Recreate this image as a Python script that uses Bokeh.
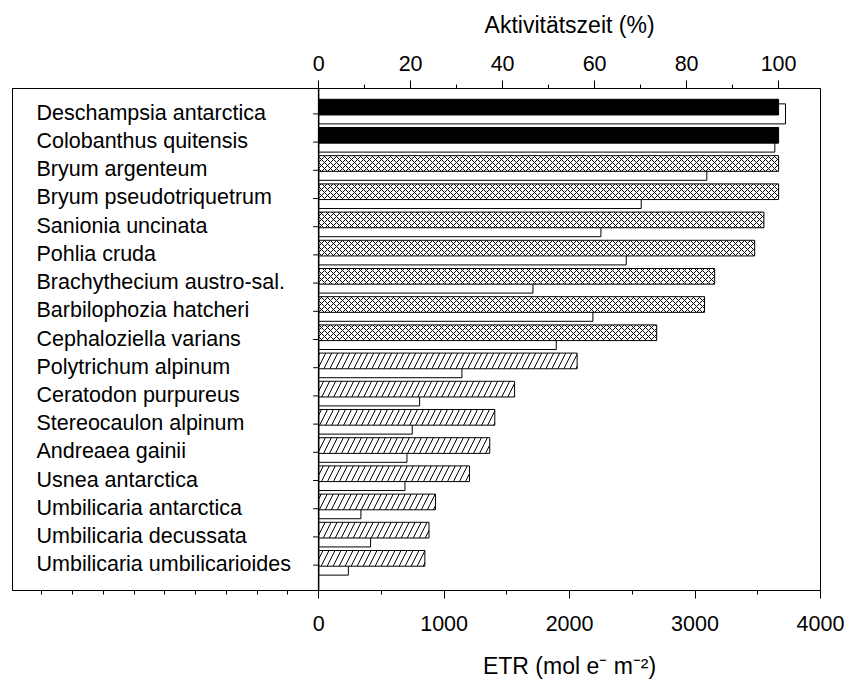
from bokeh.plotting import figure
from bokeh.models import ColumnDataSource, Range1d, FactorRange, LinearAxis, FixedTicker, Span
from bokeh.transform import dodge
from bokeh.core.properties import value
from bokeh.embed import file_html
from bokeh.resources import INLINE

# ---------------- data ----------------
species = [
    "Deschampsia antarctica", "Colobanthus quitensis", "Bryum argenteum",
    "Bryum pseudotriquetrum", "Sanionia uncinata", "Pohlia cruda",
    "Brachythecium austro-sal.", "Barbilophozia hatcheri", "Cephaloziella varians",
    "Polytrichum alpinum", "Ceratodon purpureus", "Stereocaulon alpinum",
    "Andreaea gainii", "Usnea antarctica", "Umbilicaria antarctica",
    "Umbilicaria decussata", "Umbilicaria umbilicarioides",
]
groups = ["solid", "solid",
          "cross", "cross", "cross", "cross", "cross", "cross", "cross",
          "diag", "diag", "diag", "diag", "diag", "diag", "diag", "diag"]
activity_pct = [100, 100, 100, 100, 96.8, 94.8, 86.1, 83.9, 73.5,
                56.2, 42.6, 38.3, 37.2, 32.8, 25.4, 24.0, 23.1]
etr = [3721, 3636, 3094, 2571, 2250, 2452, 1708, 2186, 1894,
       1142, 805, 746, 704, 688, 337, 414, 237]

pct_ticks = [0, 20, 40, 60, 80, 100]
pct_minor = [10, 30, 50, 70, 90]
etr_ticks = [0, 1000, 2000, 3000, 4000]
etr_minor = [-2205, -1960, -1715, -1470, -1225, -980, -735, -490, -245,
             500, 1500, 2500, 3500]

top_title = "Aktivitätszeit (%)"
bottom_title = "ETR (mol e\u207b m\u207b\u00b2)"

# ---------------- style ----------------
FONT = "Liberation Sans"
ETR_START, ETR_END = -2440, 4000
ETR_PER_PCT = 36.66
fill_for = {"solid": "black", "cross": "white", "diag": "white"}
hatch_for = {"solid": " ", "cross": "x", "diag": "/"}
scale_for = {"solid": 12, "cross": 6, "diag": 12}

src = ColumnDataSource(dict(
    species=species, pct=activity_pct, etr=etr,
    fill=[fill_for[g] for g in groups],
    hatch=[hatch_for[g] for g in groups],
    hscale=[scale_for[g] for g in groups],
))

p = figure(width=848, height=682, output_backend="svg", toolbar_location=None,
           x_range=Range1d(ETR_START, ETR_END),
           y_range=FactorRange(factors=species[::-1], range_padding=0.4,
                               range_padding_units="absolute"),
           x_axis_location=None, y_axis_location=None,
           min_border_left=12, min_border_right=28, min_border_top=88, min_border_bottom=92)
p.title.visible = False
p.extra_x_ranges = {"pct": Range1d(ETR_START / ETR_PER_PCT, ETR_END / ETR_PER_PCT)}
p.grid.visible = False
p.outline_line_color = "black"
p.outline_line_width = 1
p.outline_line_alpha = 1
p.background_fill_color = "white"
p.border_fill_color = "white"


def style_axis(ax, standoff, size="21.5px"):
    ax.major_tick_out = 8
    ax.major_tick_in = 0
    ax.minor_tick_out = 4
    ax.minor_tick_in = 0
    ax.axis_line_color = "black"
    ax.major_tick_line_color = "black"
    ax.minor_tick_line_color = "black"
    ax.major_label_text_font = FONT
    ax.major_label_text_font_size = size
    ax.major_label_text_color = "black"
    ax.major_label_standoff = standoff


def title_axis(text, standoff, **kw):
    # an axis with no lines whose only label is the axis title,
    # centred over the 0..4000 part of the scale
    mid = (etr_ticks[0] + etr_ticks[-1]) / 2
    ax = LinearAxis(ticker=FixedTicker(ticks=[mid], minor_ticks=[]),
                    major_label_overrides={mid: text}, **kw)
    style_axis(ax, standoff, size="23px")
    ax.major_tick_out = 0
    ax.minor_tick_out = 0
    ax.axis_line_color = None
    ax.major_tick_line_color = None
    ax.minor_tick_line_color = None
    return ax


xb = LinearAxis(ticker=FixedTicker(ticks=etr_ticks, minor_ticks=etr_minor))
style_axis(xb, 17)
p.add_layout(xb, "below")
p.add_layout(title_axis(bottom_title, 19), "below")

xt = LinearAxis(x_range_name="pct", ticker=FixedTicker(ticks=pct_ticks, minor_ticks=pct_minor))
style_axis(xt, 10)
p.add_layout(xt, "above")
p.add_layout(title_axis(top_title, 15), "above")

# tick marks on the zero line (right half hidden by the bars)
p.scatter(x=0, y="species", source=src, marker="dash", size=11,
          line_color="black", line_width=1)

# ETR bars (thin, behind)
p.hbar(y="species", left=0, right="etr", height=0.71, source=src,
       fill_color="white", line_color="black", line_width=1)

# activity bars (thick, front)
p.hbar(y=dodge("species", 0.24, range=p.y_range), left=0, right="pct", height=0.556,
       x_range_name="pct", source=src, fill_color="fill", line_color="black",
       line_width=1, hatch_pattern="hatch", hatch_color="black",
       hatch_scale="hscale", hatch_weight=1)

p.add_layout(Span(location=0, dimension="height", line_color="black", line_width=1.5))

# species names inside the frame
p.text(x=ETR_START, y="species", text="species", source=src, x_offset=24, y_offset=-1,
       text_font=value(FONT), text_font_size="21.5px", text_align="left",
       text_baseline="middle", text_color="black")

open("out.html", "w").write(file_html(p, INLINE))
